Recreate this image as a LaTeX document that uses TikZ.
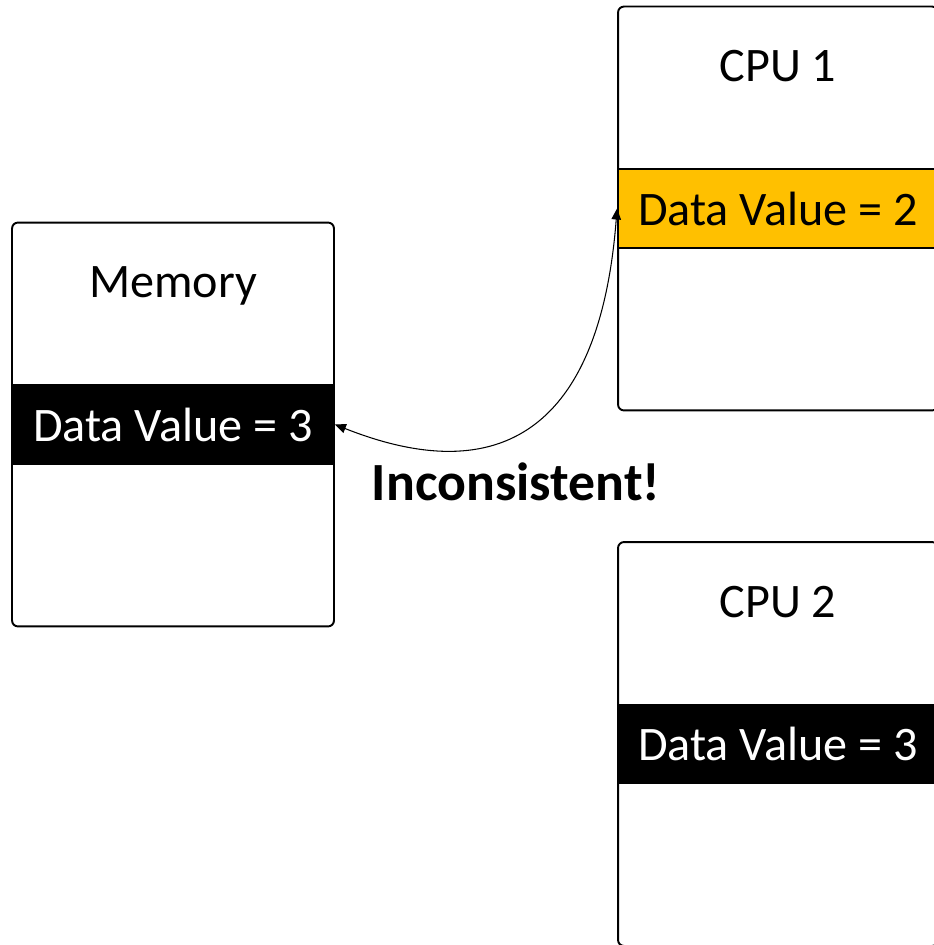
\documentclass[tikz,border=0pt]{standalone}
\usepackage{fontspec}
\setmainfont{Carlito}
\usetikzlibrary{arrows.meta,positioning,calc}
\definecolor{gold}{HTML}{FFC000}

\begin{document}
\begin{tikzpicture}[
    x=0.02cm, y=-0.02cm,
    font=\fontsize{27.4}{32}\selectfont,
    unit/.style={draw, line width=1.1pt, rounded corners=0.12cm,
      minimum width=6.4cm, minimum height=8.08cm, inner sep=0pt},
    title/.style={anchor=base, inner sep=0pt},
    band/.style={draw, line width=1.1pt, minimum width=6.4cm,
      minimum height=1.58cm, inner sep=0pt},
    oldval/.style={band, fill=black, text=white},
    newval/.style={band, fill=gold, text=black},
    arrow/.style={{Triangle[length=0.22cm,width=0.19cm]}-{Triangle[length=0.22cm,width=0.19cm]}, line width=0.6pt}
  ]
    \useasboundingbox (0,0) rectangle (933,945);
    \fill[white] (0,0) rectangle (933,945);
    \node[unit, minimum width=6.44cm] (mem) at (173,424.5) {};
    \node[unit] (cpua) at (778,208.5) {};
    \node[unit] (cpub) at (778,744) {};
    \node[title] (memt) at ([yshift=-1.52cm]mem.north) {Memory};
    \node[title] (cpuat) at ([yshift=-1.52cm]cpua.north) {CPU 1};
    \node[title] (cpubt) at ([yshift=-1.52cm]cpub.north) {CPU 2};
    \node[oldval, minimum width=6.44cm] (memv) at (mem.center) {Data Value = 3};
    \node[newval] (cpuav) at (cpua.center) {Data Value = 2};
    \node[oldval] (cpubv) at (cpub.center) {Data Value = 3};
    \draw[arrow] (memv.east) .. controls (500,490) and (600,430) .. (cpuav.west);
    \node[font=\fontsize{30.6}{36}\selectfont\bfseries] (warn) at (516,482) {Inconsistent!};
  \end{tikzpicture}
\end{document}
